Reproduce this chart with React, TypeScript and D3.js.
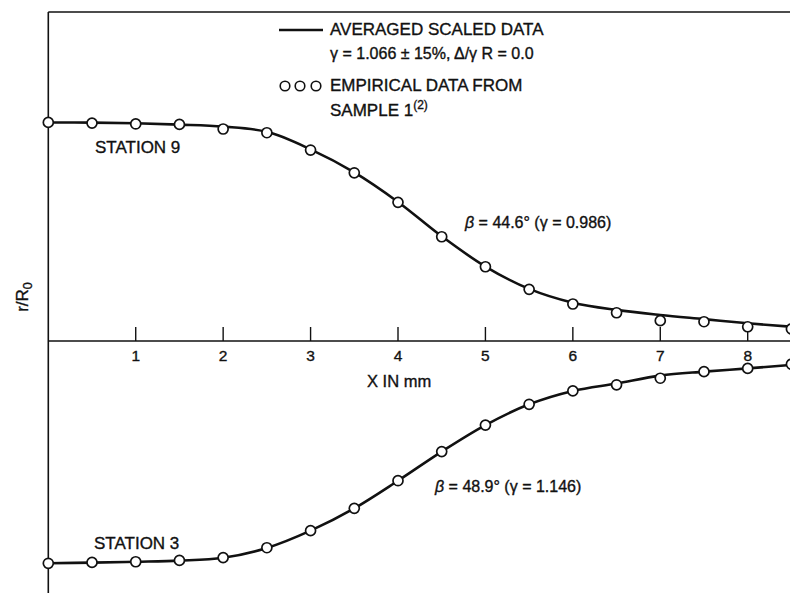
import React from "react";
import * as d3 from "d3";

const xValues = [0, 0.5, 1, 1.5, 2, 2.5, 3, 3.5, 4, 4.5, 5, 5.5, 6, 6.5, 7, 7.5, 8, 8.5];
const station9Points = [0.998, 0.995, 0.991, 0.989, 0.968, 0.951, 0.872, 0.768, 0.633, 0.476, 0.339, 0.236, 0.169, 0.129, 0.093, 0.088, 0.065, 0.055];
const station9Curve = [0.998, 0.997, 0.994, 0.988, 0.979, 0.955, 0.875, 0.77, 0.635, 0.478, 0.34, 0.238, 0.175, 0.142, 0.119, 0.1, 0.081, 0.065];
const station3Points = [-1.015, -1.011, -1.008, -1.002, -0.989, -0.944, -0.866, -0.764, -0.638, -0.505, -0.384, -0.289, -0.228, -0.2, -0.17, -0.14, -0.125, -0.106];
const station3Curve = [-1.015, -1.012, -1.008, -1.003, -0.99, -0.945, -0.866, -0.764, -0.638, -0.505, -0.384, -0.289, -0.228, -0.194, -0.158, -0.14, -0.125, -0.109];
const xTicks = [1, 2, 3, 4, 5, 6, 7, 8];

const W = 790;
const H = 593;
const FONT = "'Liberation Sans', Arial, Helvetica, sans-serif";

export default function App() {
  const x = d3.scaleLinear().domain([0, 8]).range([48.3, 747.7]);
  const y = d3.scaleLinear().domain([-1, 1]).range([560, 122]);
  const line = d3
    .line<number>()
    .x((_, i) => x(xValues[i]))
    .y((d) => y(d))
    .curve(d3.curveCatmullRom.alpha(0.5));

  const ink = "#111";
  const textProps = { fill: ink, stroke: ink, strokeWidth: 0.35 };
  return (
    <svg
      width={W}
      height={H}
      style={{ position: "absolute", left: 0, top: 0, background: "#fff" }}
      fontFamily={FONT}
    >
      <rect x={0} y={0} width={W} height={H} fill="#fff" />
      {/* frame */}
      <line x1={x(0)} x2={W} y1={12} y2={12} stroke={ink} strokeWidth={1.6} />
      <line x1={x(0)} x2={x(0)} y1={12} y2={H} stroke={ink} strokeWidth={1.6} />
      {/* x axis */}
      <line x1={x(0)} x2={W} y1={y(0)} y2={y(0)} stroke={ink} strokeWidth={1.6} />
      {xTicks.map((t) => (
        <g key={t}>
          <line x1={x(t)} x2={x(t)} y1={y(0)} y2={y(0) - 14} stroke={ink} strokeWidth={1.4} />
          <text x={x(t)} y={y(0) + 20} textAnchor="middle" fontSize={15.5} {...textProps}>
            {t}
          </text>
        </g>
      ))}
      <text x={367} y={387} fontSize={16.5} {...textProps}>
        X IN mm
      </text>
      <text
        transform={`translate(28,297) rotate(-90)`}
        textAnchor="middle"
        fontSize={17}
        {...textProps}
      >
        r/R<tspan fontSize={12.5} dy={4}>0</tspan>
      </text>

      {/* curves */}
      <path d={line(station9Curve) || ""} fill="none" stroke={ink} strokeWidth={2.6} />
      <path d={line(station3Curve) || ""} fill="none" stroke={ink} strokeWidth={2.6} />
      {station9Points.map((v, i) => (
        <circle key={"a" + i} cx={x(xValues[i])} cy={y(v)} r={5} fill="#fff" stroke={ink} strokeWidth={1.7} />
      ))}
      {station3Points.map((v, i) => (
        <circle key={"b" + i} cx={x(xValues[i])} cy={y(v)} r={5} fill="#fff" stroke={ink} strokeWidth={1.7} />
      ))}

      {/* labels */}
      <text x={95} y={153} fontSize={17} {...textProps}>STATION 9</text>
      <text x={94} y={549} fontSize={17} {...textProps}>STATION  3</text>
      <text x={465} y={228} fontSize={16} {...textProps}>
        <tspan fontStyle="italic">β</tspan> = 44.6°  (γ = 0.986)
      </text>
      <text x={435} y={492} fontSize={16} {...textProps}>
        <tspan fontStyle="italic">β</tspan> = 48.9°  (γ = 1.146)
      </text>

      {/* legend */}
      <line x1={279} x2={323} y1={30} y2={30} stroke={ink} strokeWidth={2.6} />
      <text x={330} y={35} fontSize={17} {...textProps}>AVERAGED SCALED DATA</text>
      <text x={330} y={59} fontSize={16} {...textProps}>γ = 1.066 ± 15%, Δ/γ R = 0.0</text>
      {[285, 300, 316].map((cx) => (
        <circle key={cx} cx={cx} cy={86} r={4.8} fill="#fff" stroke={ink} strokeWidth={1.6} />
      ))}
      <text x={330} y={91} fontSize={17} {...textProps}>EMPIRICAL DATA FROM</text>
      <text x={330} y={116} fontSize={17} {...textProps}>
        SAMPLE 1<tspan fontSize={12} dy={-7}>(2)</tspan>
      </text>
    </svg>
  );
}
